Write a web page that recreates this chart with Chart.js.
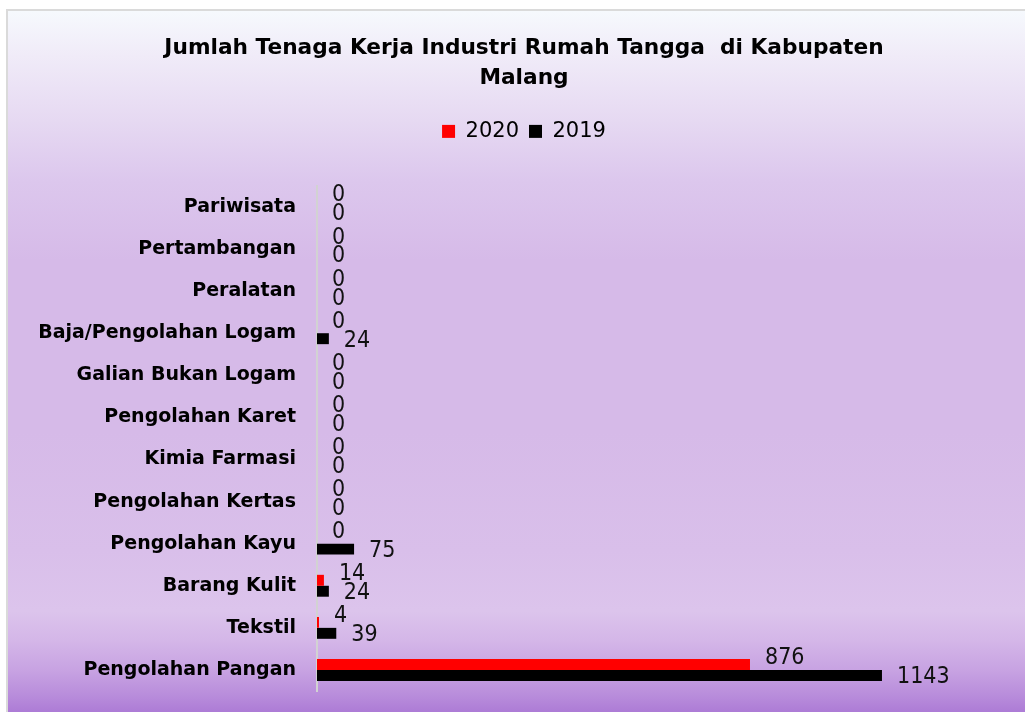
<!DOCTYPE html>
<html>
<head>
<meta charset="utf-8">
<title>Jumlah Tenaga Kerja Industri Rumah Tangga di Kabupaten Malang</title>
<script src="https://cdn.jsdelivr.net/npm/chart.js@4.4.1/dist/chart.umd.min.js"></script>
<style>
  html, body { margin: 0; padding: 0; background: #ffffff; overflow: hidden; }
  #frame {
    position: absolute; left: 6px; top: 9px; width: 1060px; height: 740px;
    border: 2px solid #dadada; box-sizing: border-box;
    background: linear-gradient(to bottom,
      #f6f9fd 0px, #f0ebf8 45px, #e6d9f2 110px, #dcc7ed 170px,
      #d6bae8 250px, #d6bae8 420px, #d9bfea 540px, #dcc4ec 600px,
      #d4b6e8 630px, #c7a2e2 660px, #b88cdb 685px, #a570d2 712px);
  }
  #chart { position: absolute; left: 0; top: 0; }
</style>
</head>
<body>
<div id="frame"></div>
<canvas id="chart" width="1025" height="712"></canvas>
<script>
// Sektor industri rumah tangga (urutan dari atas ke bawah)
const categories = [
  'Pariwisata', 'Pertambangan', 'Peralatan', 'Baja/Pengolahan Logam',
  'Galian Bukan Logam', 'Pengolahan Karet', 'Kimia Farmasi', 'Pengolahan Kertas',
  'Pengolahan Kayu', 'Barang Kulit', 'Tekstil', 'Pengolahan Pangan'
];
const seriesNames = ['2020', '2019'];
const tenagaKerja2020 = [0, 0, 0, 0, 0, 0, 0, 0, 0, 14, 4, 876];
const tenagaKerja2019 = [0, 0, 0, 24, 0, 0, 0, 0, 75, 24, 39, 1143];
const titleLines = ['Jumlah Tenaga Kerja Industri Rumah Tangga  di Kabupaten', 'Malang'];

// Angka di ujung setiap batang
const valueLabels = {
  id: 'valueLabels',
  afterDatasetsDraw(chart) {
    const ctx = chart.ctx;
    ctx.save();
    ctx.font = '23px "DejaVu Sans Condensed", "DejaVu Sans", sans-serif';
    ctx.fillStyle = '#111111';
    ctx.textAlign = 'left';
    ctx.textBaseline = 'middle';
    chart.data.datasets.forEach((ds, di) => {
      const meta = chart.getDatasetMeta(di);
      const dy = di === 0 ? -6 : 2;
      meta.data.forEach((bar, i) => {
        ctx.fillText(String(ds.data[i]), bar.x + 15, bar.y + dy);
      });
    });
    ctx.restore();
  }
};

new Chart(document.getElementById('chart'), {
  type: 'bar',
  data: {
    labels: categories,
    datasets: [
      { label: seriesNames[0], data: tenagaKerja2020, backgroundColor: '#ff0000', borderWidth: 0 },
      { label: seriesNames[1], data: tenagaKerja2019, backgroundColor: '#000000', borderWidth: 0 }
    ]
  },
  options: {
    indexAxis: 'y',
    responsive: false,
    animation: false,
    devicePixelRatio: 1,
    datasets: { bar: { categoryPercentage: 0.52, barPercentage: 1 } },
    layout: { padding: { top: 0, left: 39, right: 16, bottom: 21 } },
    plugins: {
      title: {
        display: true,
        text: titleLines,
        color: '#000000',
        font: { family: '"DejaVu Sans", sans-serif', size: 21.7, weight: 'bold', lineHeight: 1.38 },
        padding: { top: 33, bottom: 18 }
      },
      legend: {
        display: true,
        position: 'top',
        labels: {
          color: '#000000',
          boxWidth: 13,
          boxHeight: 13,
          padding: 10,
          font: { family: '"DejaVu Sans", sans-serif', size: 21 }
        }
      },
      tooltip: { enabled: false }
    },
    scales: {
      x: {
        position: 'top',
        min: 0,
        max: 1400,
        ticks: { display: false },
        grid: { display: false, drawTicks: false },
        border: { display: false },
        afterFit(scale) { scale.height = 34; }
      },
      y: {
        grid: { display: false, drawTicks: false },
        border: { display: true, color: '#d2d2d2', width: 2 },
        ticks: {
          color: '#000000',
          padding: 21,
          font: { family: '"DejaVu Sans", sans-serif', size: 19, weight: 'bold' }
        },
        afterFit(scale) {
          scale.width = 278;
          scale.paddingTop = 0;
          scale.paddingBottom = 0;
        }
      }
    }
  },
  plugins: [valueLabels]
});
</script>
</body>
</html>
